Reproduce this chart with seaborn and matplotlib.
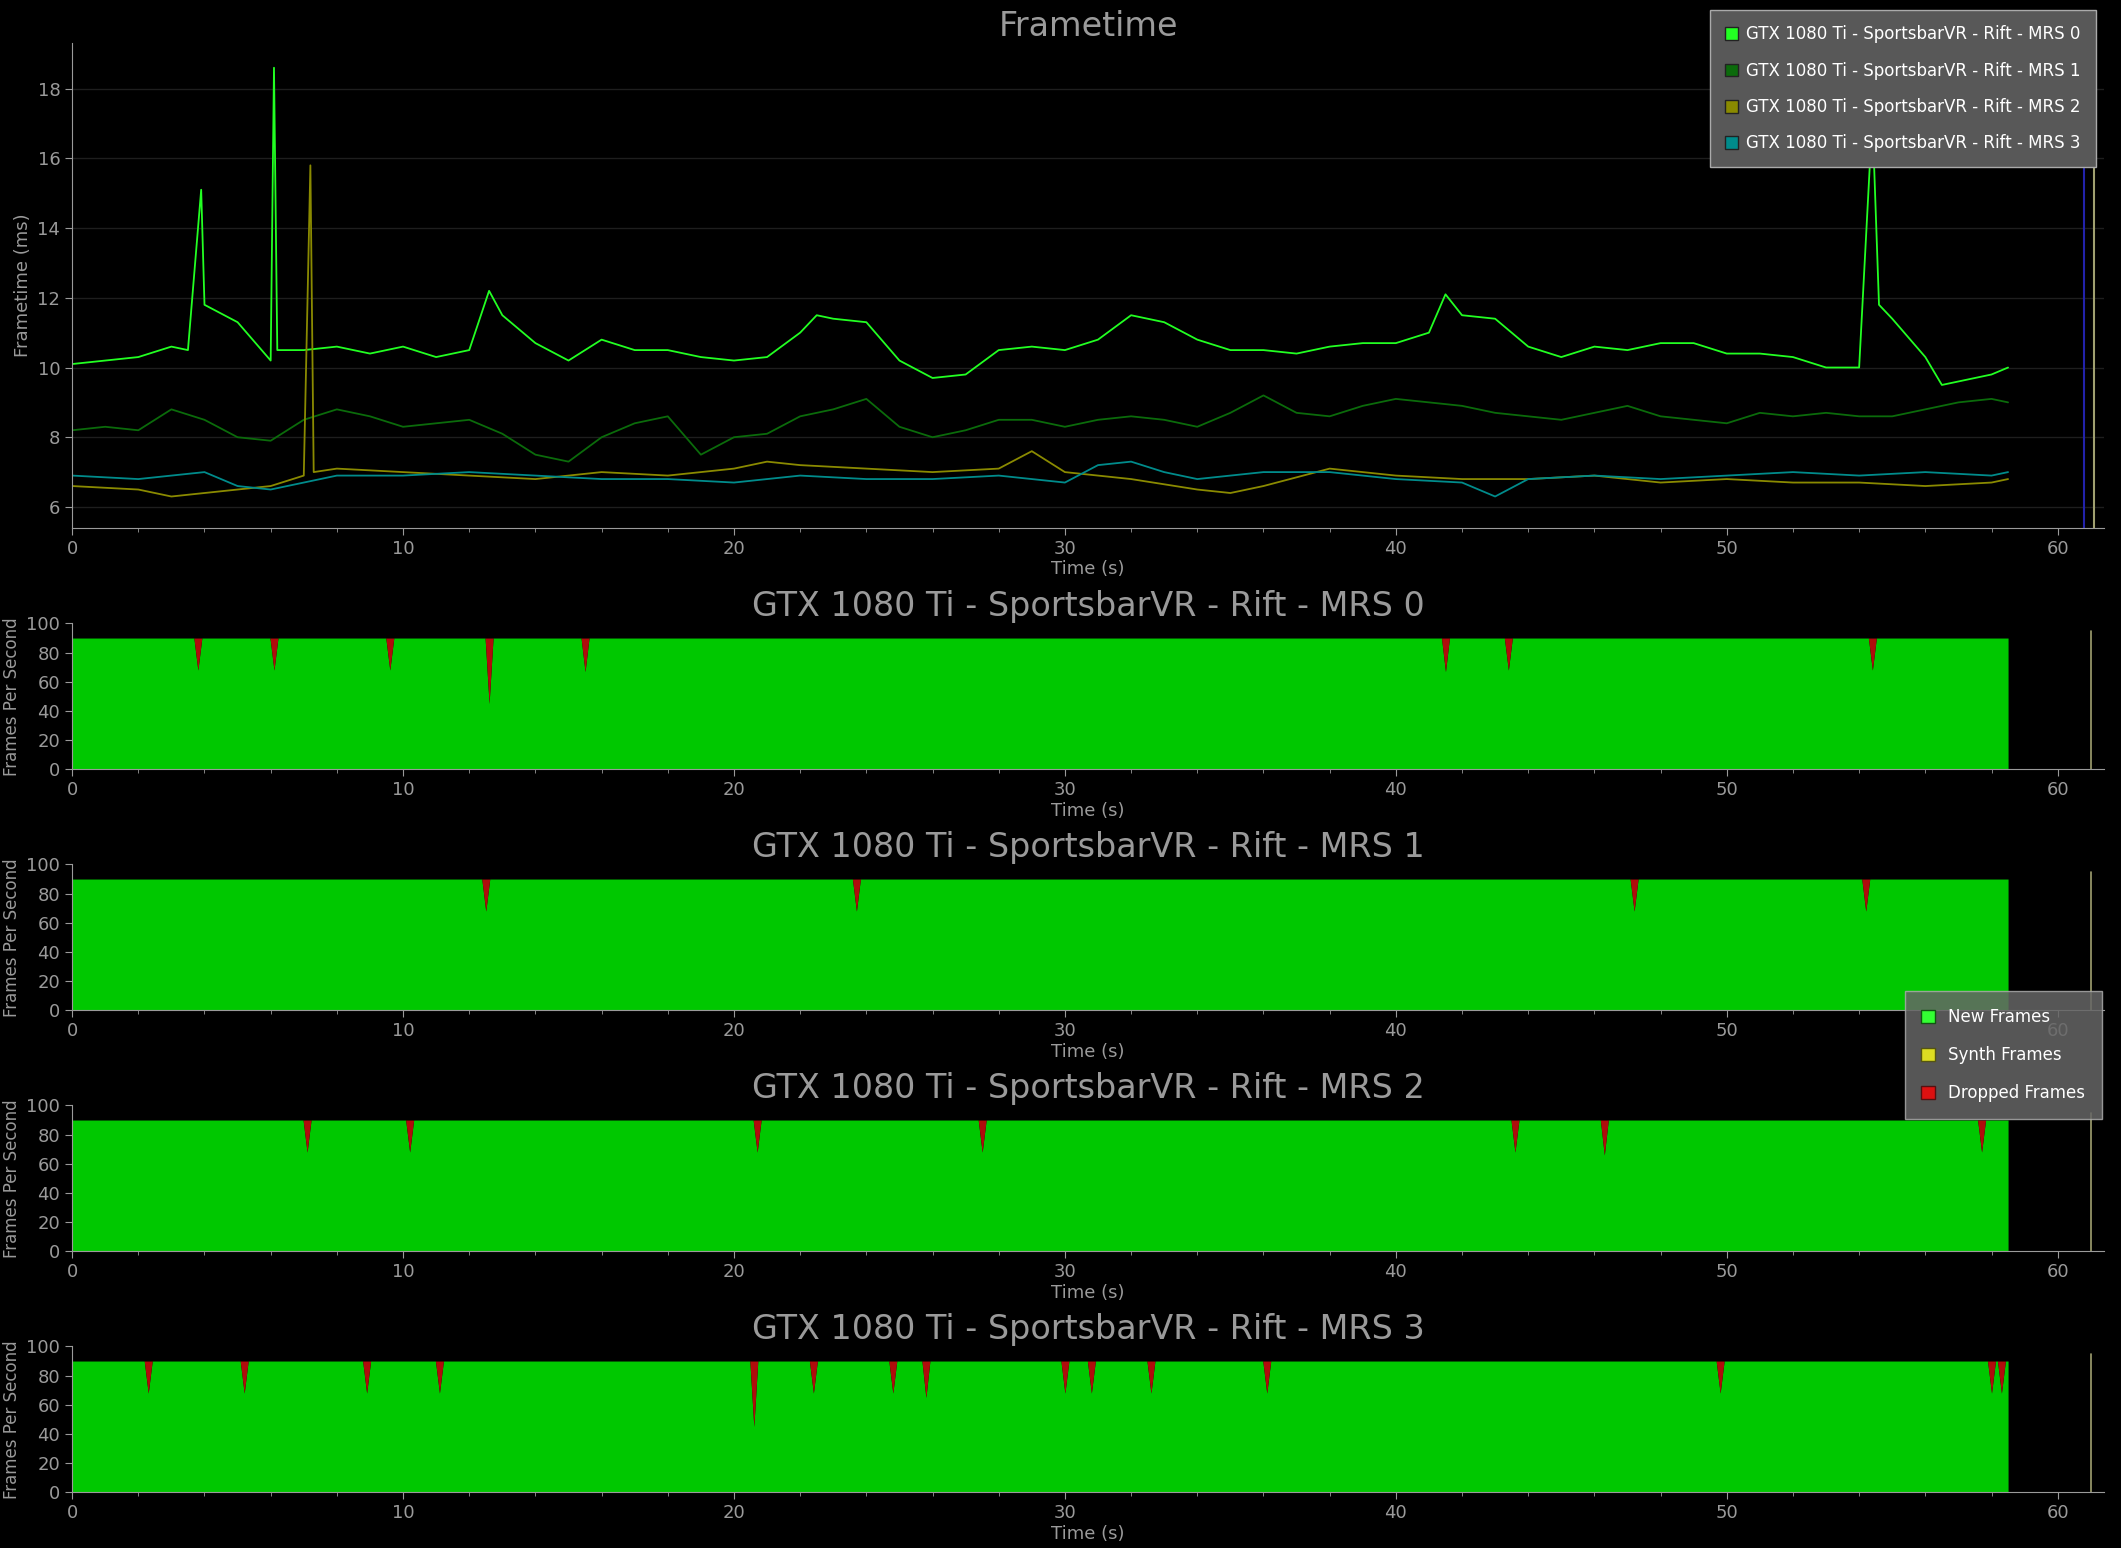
import matplotlib
matplotlib.use("Agg")
import matplotlib.pyplot as plt
import seaborn as sns
import numpy as np
import pandas as pd
from matplotlib.patches import Patch

sns.set_style("dark")
plt.rcParams["font.family"] = ["DejaVu Sans"]

# frametime series (s, ms)
t0 = [0, 1, 2, 3, 3.5, 3.9, 4, 5, 6, 6.1, 6.2, 7, 8, 9, 10, 11, 12, 12.6, 13, 14, 15, 16, 17, 18, 19, 20,
      21, 22, 22.5, 23, 24, 25, 26, 27, 28, 29, 30, 31, 32, 33, 34, 35, 36, 37, 38, 39, 40, 41, 41.5, 42,
      43, 44, 45, 46, 47, 48, 49, 50, 51, 52, 53, 54, 54.4, 54.6, 55, 56, 56.5, 57, 58, 58.5]
v0 = [10.1, 10.2, 10.3, 10.6, 10.5, 15.1, 11.8, 11.3, 10.2, 18.6, 10.5, 10.5, 10.6, 10.4, 10.6, 10.3, 10.5,
      12.2, 11.5, 10.7, 10.2, 10.8, 10.5, 10.5, 10.3, 10.2, 10.3, 11.0, 11.5, 11.4, 11.3, 10.2, 9.7, 9.8,
      10.5, 10.6, 10.5, 10.8, 11.5, 11.3, 10.8, 10.5, 10.5, 10.4, 10.6, 10.7, 10.7, 11.0, 12.1, 11.5, 11.4,
      10.6, 10.3, 10.6, 10.5, 10.7, 10.7, 10.4, 10.4, 10.3, 10.0, 10.0, 17.2, 11.8, 11.4, 10.3, 9.5, 9.6,
      9.8, 10.0]
t1 = list(range(0, 59)) + [58.5]
v1 = [8.2, 8.3, 8.2, 8.8, 8.5, 8.0, 7.9, 8.5, 8.8, 8.6, 8.3, 8.4, 8.5, 8.1, 7.5, 7.3, 8.0, 8.4, 8.6, 7.5,
      8.0, 8.1, 8.6, 8.8, 9.1, 8.3, 8.0, 8.2, 8.5, 8.5, 8.3, 8.5, 8.6, 8.5, 8.3, 8.7, 9.2, 8.7, 8.6, 8.9,
      9.1, 9.0, 8.9, 8.7, 8.6, 8.5, 8.7, 8.9, 8.6, 8.5, 8.4, 8.7, 8.6, 8.7, 8.6, 8.6, 8.8, 9.0, 9.1, 9.0]
t2 = [0, 2, 3, 5, 6, 7, 7.2, 7.3, 8, 10, 12, 14, 15, 16, 18, 20, 21, 22, 24, 26, 28, 29, 30, 32, 34, 35,
      36, 38, 40, 42, 44, 46, 48, 50, 52, 54, 56, 58, 58.5]
v2 = [6.6, 6.5, 6.3, 6.5, 6.6, 6.9, 15.8, 7.0, 7.1, 7.0, 6.9, 6.8, 6.9, 7.0, 6.9, 7.1, 7.3, 7.2, 7.1, 7.0,
      7.1, 7.6, 7.0, 6.8, 6.5, 6.4, 6.6, 7.1, 6.9, 6.8, 6.8, 6.9, 6.7, 6.8, 6.7, 6.7, 6.6, 6.7, 6.8]
t3 = [0, 2, 3, 4, 5, 6, 8, 10, 12, 14, 16, 18, 20, 22, 24, 26, 28, 30, 31, 32, 33, 34, 36, 38, 40, 42, 43,
      44, 46, 48, 50, 52, 54, 56, 58, 58.5]
v3 = [6.9, 6.8, 6.9, 7.0, 6.6, 6.5, 6.9, 6.9, 7.0, 6.9, 6.8, 6.8, 6.7, 6.9, 6.8, 6.8, 6.9, 6.7, 7.2, 7.3,
      7.0, 6.8, 7.0, 7.0, 6.8, 6.7, 6.3, 6.8, 6.9, 6.8, 6.9, 7.0, 6.9, 7.0, 6.9, 7.0]

names = ["GTX 1080 Ti - SportsbarVR - Rift - MRS 0", "GTX 1080 Ti - SportsbarVR - Rift - MRS 1",
         "GTX 1080 Ti - SportsbarVR - Rift - MRS 2", "GTX 1080 Ti - SportsbarVR - Rift - MRS 3"]
colors = ["#22ff22", "#0b6b0b", "#8a8a00", "#008b8b"]

# dropped frame dips per run: (time, min fps)
dips = [
    [(3.8, 68), (6.1, 68), (9.6, 68), (12.6, 45), (15.5, 67), (41.5, 67), (43.4, 68), (54.4, 68)],
    [(12.5, 68), (23.7, 68), (47.2, 68), (54.2, 68)],
    [(7.1, 68), (10.2, 68), (20.7, 68), (27.5, 68), (43.6, 68), (46.3, 66), (57.7, 68)],
    [(2.3, 68), (5.2, 68), (8.9, 68), (11.1, 68), (20.6, 45), (22.4, 68), (24.8, 68), (25.8, 65),
     (30.0, 68), (30.8, 68), (32.6, 68), (36.1, 68), (49.8, 68), (58.0, 68), (58.3, 68)],
]
run_end = 58.5
target_fps = 90

gray = "#9a9a9a"
fig = plt.figure(figsize=(21.21, 15.48), dpi=100, facecolor="black")


def style(ax):
    ax.set_facecolor("black")
    for s in ["top", "right"]:
        ax.spines[s].set_visible(False)
    for s in ["left", "bottom"]:
        ax.spines[s].set_color(gray)
    ax.tick_params(colors=gray, labelsize=13, direction="out", length=5, left=True, bottom=True)
    ax.set_xlim(0, 61.4)
    ax.set_xticks(range(0, 61, 10))
    ax.set_xticks(np.arange(0, 61.4, 2), minor=True)
    ax.tick_params(which="minor", colors=gray, length=3, bottom=True)
    ax.set_xlabel("Time (s)", color=gray, fontsize=13, labelpad=2)


# top frametime plot
ax = fig.add_axes([0.034, 0.659, 0.958, 0.313])
style(ax)
frames = []
for t, v, n in zip([t0, t1, t2, t3], [v0, v1, v2, v3], names):
    frames.append(pd.DataFrame({"t": t, "v": v, "run": n}))
df = pd.concat(frames)
sns.lineplot(data=df, x="t", y="v", hue="run", palette=colors, linewidth=1.3, ax=ax, legend=False)
ax.axvline(60.8, color="#2222aa", lw=1.5, ymax=0.96)
ax.axvline(61.1, color="#a0a070", lw=1.5, ymax=0.96)
ax.set_ylim(5.4, 19.3)
ax.set_yticks(range(6, 19, 2))
ax.yaxis.grid(True, color="#1e1e1e", lw=1)
ax.xaxis.grid(False)
ax.set_ylabel("Frametime (ms)", color=gray, fontsize=13)
ax.set_title("Frametime", color=gray, fontsize=24, pad=4)
handles = [Patch(facecolor=c, edgecolor="#222222", label=n) for c, n in zip(colors, names)]
ax.legend(handles=handles, loc="upper right", bbox_to_anchor=(1.0, 1.085), fontsize=12,
          facecolor="#585858", edgecolor="#aaaaaa", framealpha=1, labelcolor="white",
          handlelength=0.8, handleheight=0.8, handletextpad=0.5, labelspacing=1.1,
          borderpad=0.9, fancybox=False)

# fps plots
for k in range(4):
    bottom = 1 - (769 + 241 * k) / 1548
    ax = fig.add_axes([0.034, bottom, 0.958, 0.094])
    style(ax)
    xs, ys = [0.0], [target_fps]
    for t, m in dips[k]:
        xs += [t - 0.12, t, t + 0.12]
        ys += [target_fps, m, target_fps]
    xs.append(run_end)
    ys.append(target_fps)
    ax.fill_between(xs, 0, ys, color="#00c800", lw=0)
    ax.fill_between(xs, ys, target_fps, color="#b00c0c", lw=0)
    ax.axvline(61.0, color="#a0a070", lw=1.2, ymax=0.95)
    ax.set_ylim(0, 100)
    ax.set_yticks(range(0, 101, 20))
    ax.set_ylabel("Frames Per Second", color=gray, fontsize=12)
    ax.set_title(names[k], color=gray, fontsize=24, pad=4)

fps_handles = [Patch(facecolor="#33ff33", edgecolor="#115511", label="New Frames"),
               Patch(facecolor="#dddd22", edgecolor="#555511", label="Synth Frames"),
               Patch(facecolor="#dd1111", edgecolor="#551111", label="Dropped Frames")]
fig.legend(handles=fps_handles, loc="upper right", bbox_to_anchor=(2110 / 2121, 1 - 983 / 1548),
           fontsize=12, facecolor="#666666", edgecolor="#aaaaaa", framealpha=0.85, labelcolor="white",
           handlelength=0.8, handleheight=0.8, labelspacing=1.2, borderpad=1.0, fancybox=False)

fig.savefig("out.png", dpi=100, facecolor="black")
